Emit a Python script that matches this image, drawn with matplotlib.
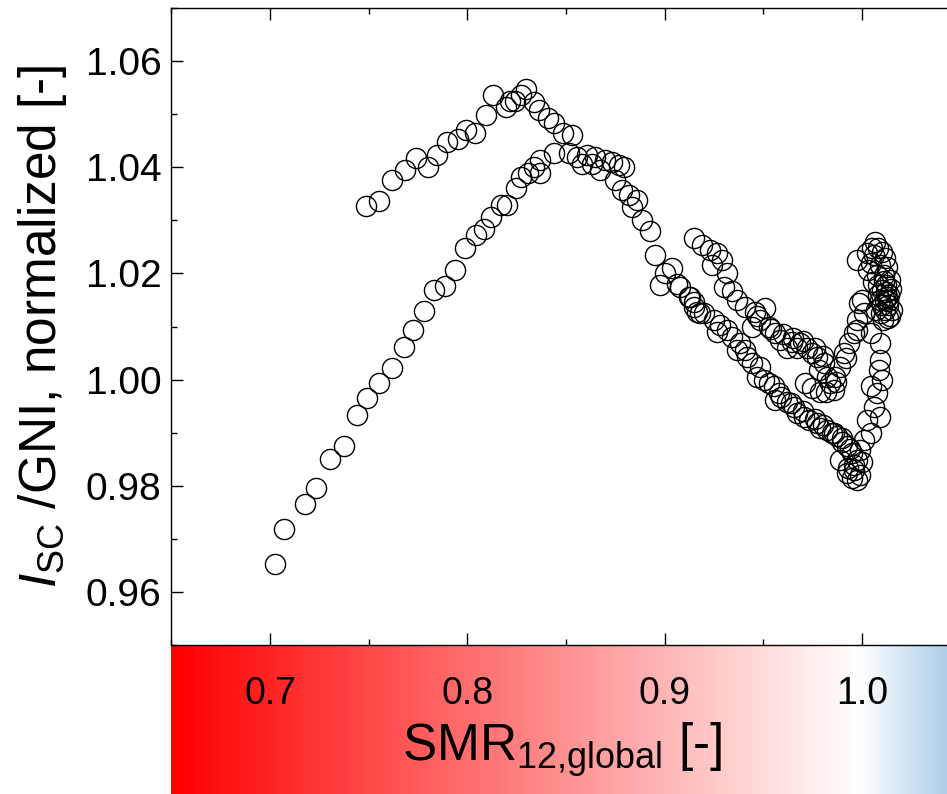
import numpy as np
import matplotlib
matplotlib.use("Agg")
import matplotlib.pyplot as plt
from matplotlib.colors import LinearSegmentedColormap, Normalize
from matplotlib.ticker import MultipleLocator

plt.rcParams['font.family'] = ['Liberation Sans', 'DejaVu Sans']
plt.rcParams['mathtext.fontset'] = 'custom'
plt.rcParams['mathtext.rm'] = 'Liberation Sans'
plt.rcParams['mathtext.it'] = 'Liberation Sans:italic'

# upper branch of the morning loop
smr_upper = [0.7485, 0.7554, 0.7620, 0.7685, 0.7742, 0.7800, 0.7847, 0.7896, 0.7950,
             0.7994, 0.8041, 0.8095, 0.8131, 0.8195, 0.8214, 0.8242, 0.8271, 0.8297,
             0.8340, 0.8364, 0.8411, 0.8437, 0.8484, 0.8530, 0.8513]
isc_upper = [1.0327, 1.0336, 1.0376, 1.0395, 1.0418, 1.0400, 1.0423, 1.0447, 1.0454,
             1.0470, 1.0465, 1.0498, 1.0537, 1.0514, 1.0525, 1.0525, 1.0536, 1.0547,
             1.0523, 1.0508, 1.0493, 1.0483, 1.0464, 1.0461, 1.0426]

# lower branch rising from 0.70
smr_lower = [0.7025, 0.7069, 0.7177, 0.7235, 0.7306, 0.7374, 0.7440, 0.7490, 0.7551,
             0.7620, 0.7678, 0.7722, 0.7782, 0.7833, 0.7887, 0.7938, 0.7989, 0.8045,
             0.8082, 0.8119, 0.8170, 0.8200, 0.8246, 0.8271, 0.8307, 0.8337, 0.8366,
             0.8369, 0.8437]
isc_lower = [0.9652, 0.9719, 0.9765, 0.9796, 0.9850, 0.9874, 0.9933, 0.9966, 0.9994,
             1.0021, 1.0061, 1.0094, 1.0129, 1.0168, 1.0177, 1.0207, 1.0248, 1.0273,
             1.0283, 1.0306, 1.0328, 1.0329, 1.0360, 1.0381, 1.0389, 1.0401, 1.0389,
             1.0414, 1.0426]

# plateau near 1.04 and descent to ~0.92
smr_plateau = [0.8555, 0.8581, 0.8606, 0.8631, 0.8648, 0.8673, 0.8699, 0.8733, 0.8750,
               0.8766, 0.8792, 0.8783, 0.8817, 0.8834, 0.8860, 0.8885, 0.8927, 0.8952,
               0.9003, 0.9037, 0.8978, 0.9062, 0.9121, 0.9147, 0.9164, 0.9197]
isc_plateau = [1.0420, 1.0407, 1.0423, 1.0407, 1.0420, 1.0395, 1.0414, 1.0410, 1.0376,
               1.0404, 1.0401, 1.0357, 1.0348, 1.0326, 1.0338, 1.0301, 1.0279, 1.0235,
               1.0200, 1.0210, 1.0178, 1.0181, 1.0156, 1.0147, 1.0128, 1.0125]

# afternoon branch (upper V)
smr_mid = [0.9147, 0.9189, 0.9231, 0.9265, 0.9240, 0.9290, 0.9316, 0.9299, 0.9341,
           0.9367, 0.9409, 0.9459, 0.9510, 0.9485, 0.9443, 0.9527, 0.9561, 0.9586,
           0.9646, 0.9688, 0.9620, 0.9670, 0.9721, 0.9746, 0.9772, 0.9806, 0.9780,
           0.9823, 0.9840, 0.9857, 0.9865, 0.9890, 0.9907, 0.9933, 0.9958, 0.9975,
           0.9983, 0.9975, 0.9713, 0.9748, 0.9789, 0.9819,
           0.9470, 0.9540, 0.9600, 0.9650, 0.9700, 0.9760, 0.9800, 0.9870, 0.9920]
isc_mid = [1.0266, 1.0254, 1.0244, 1.0238, 1.0216, 1.0225, 1.0200, 1.0175, 1.0166,
           1.0150, 1.0137, 1.0128, 1.0134, 1.0112, 1.0100, 1.0100, 1.0087, 1.0075,
           1.0071, 1.0068, 1.0059, 1.0059, 1.0059, 1.0050, 1.0043, 1.0031, 1.0018,
           1.0005, 0.9993, 0.9980, 1.0005, 1.0024, 1.0050, 1.0068, 1.0087, 1.0112,
           1.0144, 1.0225, 0.9994, 0.9984, 0.9977, 0.9977,
           1.0120, 1.0095, 1.0085, 1.0078, 1.0072, 1.0060, 1.0045, 0.9995, 1.0040]

# lower V
smr_low = [0.9079, 0.9130, 0.9147, 0.9181, 0.9248, 0.9282, 0.9265, 0.9316, 0.9341,
           0.9383, 0.9367, 0.9409, 0.9417, 0.9443, 0.9485, 0.9468, 0.9502, 0.9527,
           0.9552, 0.9578, 0.9561, 0.9620, 0.9654, 0.9671, 0.9704, 0.9730, 0.9772,
           0.9789, 0.9823, 0.9848, 0.9874, 0.9899, 0.9924, 0.9950, 0.9924, 0.9958,
           0.9975, 0.9975, 0.9992, 1.0009, 1.0043, 1.0026, 1.0093, 1.0059, 1.0076,
           1.0043, 1.0102, 1.0085, 1.0093, 1.0093, 1.0043, 0.9975, 1.0009, 1.0001,
           0.9890, 0.9931, 0.9951, 0.9990, 1.0000,
           0.9590, 0.9640, 0.9700, 0.9760, 0.9800, 0.9860, 0.9900, 0.9940, 0.9960]
isc_low = [1.0175, 1.0156, 1.0137, 1.0125, 1.0112, 1.0103, 1.0090, 1.0093, 1.0081,
           1.0068, 1.0056, 1.0056, 1.0043, 1.0031, 1.0024, 1.0005, 0.9999, 0.9993,
           0.9987, 0.9974, 0.9962, 0.9958, 0.9949, 0.9937, 0.9930, 0.9924, 0.9918,
           0.9908, 0.9905, 0.9899, 0.9893, 0.9883, 0.9874, 0.9861, 0.9824, 0.9830,
           0.9811, 0.9849, 0.9867, 0.9886, 0.9899, 0.9924, 0.9930, 0.9949, 0.9974,
           0.9987, 0.9999, 1.0018, 1.0037, 1.0068, 1.0087, 1.0093, 1.0125, 1.0150,
           0.9849, 0.9834, 0.9815, 0.9820, 0.9845,
           0.9968, 0.9955, 0.9940, 0.9925, 0.9915, 0.9900, 0.9890, 0.9870, 0.9840]

# dense cluster around SMR ~ 1.01
smr_cluster = [1.0108, 1.0150, 1.0125, 1.0142, 1.0125, 1.0043, 1.0102, 1.0026, 1.0068,
               1.0083, 1.0103, 1.0118, 1.0134, 1.0093, 1.0114, 1.0083, 1.0124, 1.0139,
               1.0109, 1.0078, 1.0093, 1.0063, 1.0083, 1.0118, 1.0053, 1.0032, 1.0058,
               1.0073, 1.0134, 1.0100, 1.0120, 1.0140, 1.0110, 1.0130, 1.0095, 1.0145]
isc_cluster = [1.0112, 1.0131, 1.0156, 1.0188, 1.0213, 1.0219, 1.0241, 1.0238, 1.0260,
               1.0178, 1.0169, 1.0150, 1.0141, 1.0150, 1.0131, 1.0159, 1.0178, 1.0159,
               1.0197, 1.0197, 1.0216, 1.0235, 1.0248, 1.0229, 1.0248, 1.0206, 1.0184,
               1.0131, 1.0116, 1.0140, 1.0165, 1.0120, 1.0185, 1.0148, 1.0125, 1.0170]

xticks = [0.7, 0.8, 0.9, 1.0]
xtick_labels = ['0.7', '0.8', '0.9', '1.0']
yticks = [0.96, 0.98, 1.00, 1.02, 1.04, 1.06]
ytick_labels = ['0.96', '0.98', '1.00', '1.02', '1.04', '1.06']

xlim = (0.65, 1.0456)
ylim = (0.95, 1.07)

W, H = 947, 794
fig = plt.figure(figsize=(W / 100, H / 100), dpi=100)

ax_left = 171.4 / W
ax_w = 780.6 / W
ax_bottom = 149 / H
ax_h = 637 / H

# colour band under the x axis
band = fig.add_axes([ax_left, 0, ax_w, ax_bottom], zorder=0)
cmap = LinearSegmentedColormap.from_list(
    'smr', [(0.0, '#ff0000'), (0.8847, '#ffffff'), (1.0, '#abcde6')])
xs = np.linspace(xlim[0], xlim[1], 600)
band.imshow(xs[np.newaxis, :], aspect='auto', cmap=cmap,
            norm=Normalize(xlim[0], xlim[1]), extent=(xlim[0], xlim[1], 0, 1))
band.set_xlim(*xlim)
band.axis('off')

ax = fig.add_axes([ax_left, ax_bottom, ax_w, ax_h], zorder=2)
ax.patch.set_alpha(0)

style = dict(linestyle='none', marker='o', mfc='none', mec='black', ms=14.5, mew=1.0)
for xv, yv in [(smr_upper, isc_upper), (smr_lower, isc_lower),
               (smr_plateau, isc_plateau), (smr_mid, isc_mid),
               (smr_low, isc_low), (smr_cluster, isc_cluster)]:
    ax.plot(xv, yv, **style)

ax.set_xlim(*xlim)
ax.set_ylim(*ylim)
ax.set_xticks(xticks)
ax.set_xticklabels(xtick_labels, fontsize=27)
ax.set_yticks(yticks)
ax.set_yticklabels(ytick_labels, fontsize=28)
ax.xaxis.set_minor_locator(MultipleLocator(0.05))
ax.yaxis.set_minor_locator(MultipleLocator(0.01))
ax.tick_params(which='both', direction='in', top=True, right=False, width=1.0)
ax.tick_params(which='major', length=8.5)
ax.tick_params(which='minor', length=4.5)
ax.tick_params(axis='x', pad=22)
ax.tick_params(axis='y', pad=7)
ax.spines['right'].set_visible(False)
for s in ['left', 'top', 'bottom']:
    ax.spines[s].set_linewidth(1.0)

ax.set_xlabel(r'SMR$_{\mathrm{12{,}global}}$ [-]', fontsize=37, labelpad=6)
ax.set_ylabel(r'$I_{\mathrm{SC}}$ /GNI, normalized [-]', fontsize=37, labelpad=12)

fig.savefig('out.png', dpi=100)
